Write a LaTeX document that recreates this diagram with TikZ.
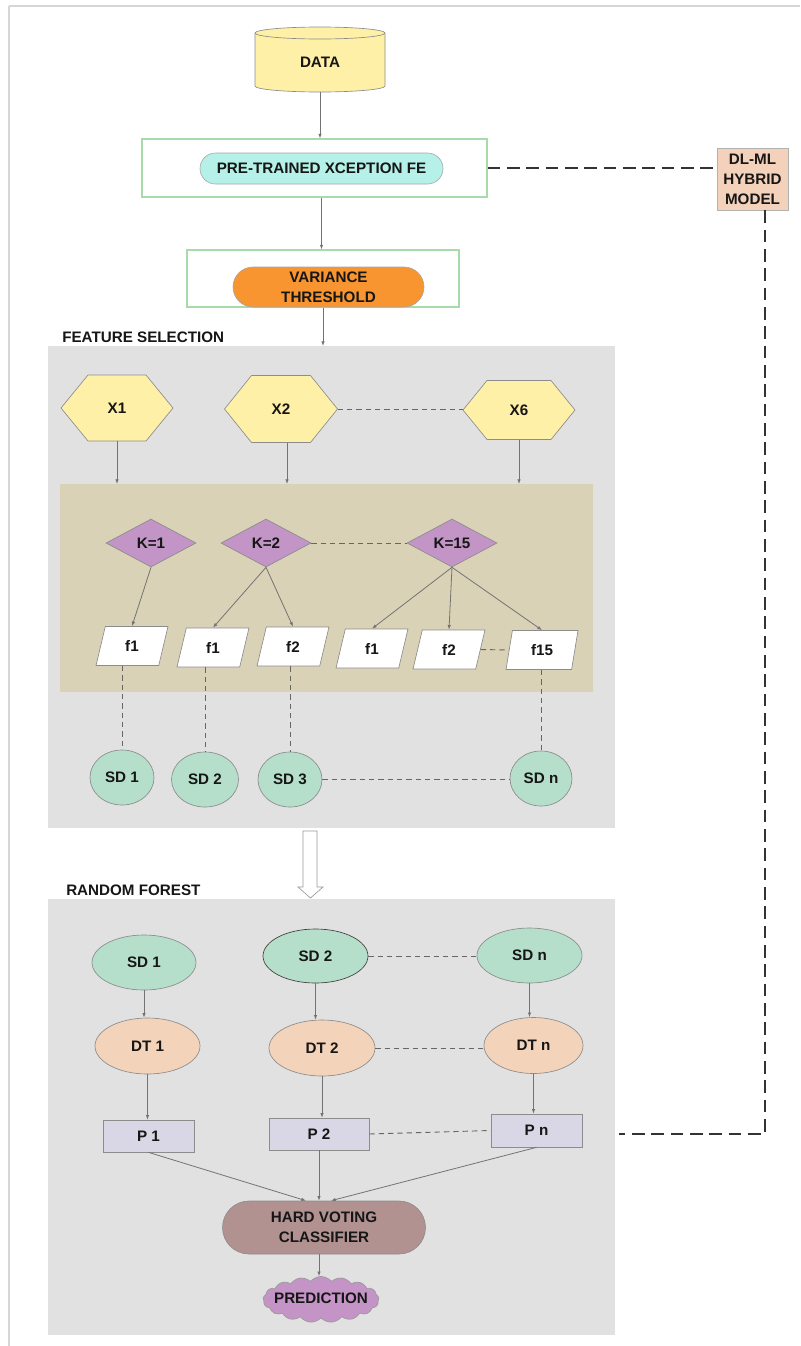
\documentclass[tikz,border=0pt]{standalone}
\usepackage{fontspec}
\setmainfont{Liberation Sans}
\usetikzlibrary{shapes.geometric,shapes.misc,shapes.symbols,arrows.meta,calc}

\def\px{0.75pt}
\definecolor{datayellow}{HTML}{FFF0A8}
\definecolor{xcyan}{HTML}{B5F1E8}
\definecolor{vorange}{HTML}{F99530}
\definecolor{boxgreen}{HTML}{A9DBA9}
\definecolor{regiongray}{HTML}{E1E1E1}
\definecolor{tanfill}{HTML}{D9D2B6}
\definecolor{kpurple}{HTML}{C295C6}
\definecolor{sdgreen}{HTML}{B5DFCB}
\definecolor{dtpeach}{HTML}{F3D4BB}
\definecolor{plav}{HTML}{D9D6E5}
\definecolor{hvbrown}{HTML}{B29191}
\definecolor{predpurple}{HTML}{C594C6}
\definecolor{dlpeach}{HTML}{F3D1BA}
\definecolor{framegray}{HTML}{D6D6D6}
\definecolor{txtblack}{HTML}{161616}

\newcommand\hexnode[7]{%
  \filldraw[hexst] (#2-#4/2,#3) -- (#2-#4/2+#6,#3-#5/2) -- (#2+#4/2-#6,#3-#5/2) -- (#2+#4/2,#3) -- (#2+#4/2-#6,#3+#5/2) -- (#2-#4/2+#6,#3+#5/2) -- cycle;
  \node[txt, minimum width=#4*\px, minimum height=#5*\px] (#1) at (#2,#3) {#7};}

\begin{document}
\begin{tikzpicture}[x=0.75pt,y=-0.75pt,
  font=\fontsize{11.4}{15}\selectfont\bfseries,
  txt/.style={text=txtblack, align=center, inner sep=0pt},
  region/.style={fill=regiongray, draw=none, inner sep=0pt, anchor=north west},
  greenbox/.style={draw=boxgreen, line width=0.8pt, fill=white, inner sep=0pt},
  pill/.style={rounded rectangle, draw=black!35, line width=0.45pt, txt},
  hexst/.style={fill=datayellow, draw=black!45, line width=0.5pt},
  kst/.style={diamond, draw=black!45, line width=0.5pt, fill=kpurple, minimum width=90*\px, minimum height=48*\px, txt},
  fst/.style={trapezium, trapezium left angle=78, trapezium right angle=102, trapezium stretches=true, draw=black!45, line width=0.5pt, fill=white, minimum width=72*\px, minimum height=39*\px, txt},
  ell/.style={ellipse, draw=black!45, line width=0.5pt, txt},
  pst/.style={rectangle, draw=black!45, line width=0.5pt, fill=plav, txt},
  conn/.style={draw=black!55, line width=0.6pt, -{Latex[length=3.5pt,width=2.6pt]}},
  dashconn/.style={draw=black!60, line width=0.7pt, dash pattern=on 4pt off 3pt},
  longdash/.style={draw=black!80, line width=1.1pt, dash pattern=on 9.5pt off 5pt}
]
\useasboundingbox (0,0) rectangle (800,1346);

% frame
\draw[framegray, line width=1.5*\px] (9,6) -- (800,6);
\draw[framegray, line width=1.5*\px] (9,6) -- (9,1346);

% regions
\node[region, minimum width=567*\px, minimum height=482*\px] (fs) at (48,346) {};
\node[region, fill=tanfill, minimum width=533*\px, minimum height=208*\px] (tan) at (60,484) {};
\node[region, minimum width=567*\px, minimum height=436*\px] (rf) at (48,899) {};

\node[txt, anchor=west] (fslabel) at (62,337) {FEATURE SELECTION};
\node[txt, anchor=west] (rflabel) at (66,890) {RANDOM FOREST};

% DATA cylinder
\filldraw[fill=datayellow, draw=black!45, line width=0.5pt] (255,33) -- (255,86)
  arc[start angle=180, end angle=360, x radius=65*\px, y radius=6*\px] -- (385,33)
  arc[start angle=0, end angle=180, x radius=65*\px, y radius=6*\px] -- cycle;
\draw[black!45, line width=0.5pt] (255,33) arc[start angle=180, end angle=360, x radius=65*\px, y radius=6*\px];
\node[txt, minimum width=130*\px, minimum height=60*\px] (data) at (320,62) {DATA};

% Xception
\node[greenbox, minimum width=345*\px, minimum height=58*\px] (xbox) at (314.5,168) {};
\node[pill, fill=xcyan, minimum width=243*\px, minimum height=31*\px] (xin) at (321.5,168.5) {PRE-TRAINED XCEPTION FE};

% Variance
\node[greenbox, minimum width=272*\px, minimum height=57*\px] (vbox) at (323,278.5) {};
\node[pill, fill=vorange, minimum width=191*\px, minimum height=40*\px] (vin) at (328.5,287) {VARIANCE\\THRESHOLD};

% DL-ML
\node[draw=black!30, line width=0.5pt, fill=dlpeach, minimum width=71*\px, minimum height=62*\px, txt] (dl) at (752.5,179) {DL-ML\\HYBRID\\MODEL};

\draw[conn] (data.south) -- (data.south |- xbox.north);
\draw[conn] (xin |- xbox.south) -- (xin |- vbox.north);
\draw[conn] (vbox.south) -- (vbox.south |- fs.north);

\draw[longdash] (xbox.east) -- (xbox.east -| dl.west);
\coordinate (c1) at (765,1134);
\coordinate (c2) at (619,1134);
\draw[longdash] (dl.south -| c1) -- (c1) -- (c2);

% hexagons
\hexnode{x1}{117}{408}{112}{66}{27}{X1}
\hexnode{x2}{281}{409}{113}{67}{27}{X2}
\hexnode{x6}{519}{410}{112}{59}{24}{X6}
\draw[conn] (x1.south) -- (x1.south |- tan.north);
\draw[conn] ([xshift=6*\px]x2.south) -- ([xshift=6*\px]x2.south |- tan.north);
\draw[conn] (x6.south) -- (x6.south |- tan.north);
\draw[dashconn] (x2.east) -- (x2.east -| x6.west);

% diamonds
\node[kst] (k1) at (151,543) {K=1};
\node[kst] (k2) at (266,543) {K=2};
\node[kst] (k15) at (452,543) {K=15};
\draw[dashconn] (k2.east) -- (k15.west);

% features
\node[fst] (fa) at (132,646) {f1};
\node[fst] (fb) at (213,647.5) {f1};
\node[fst] (fc) at (293,646.5) {f2};
\node[fst] (fd) at (372,648.5) {f1};
\node[fst] (fe) at (449,649.5) {f2};
\node[fst] (ff) at (542,650) {f15};
\draw[conn] (k1.south) -- (fa.north);
\draw[conn] (k2.south) -- (fb.north);
\draw[conn] (k2.south) -- (fc.north);
\draw[conn] (k15.south) -- (fd.north);
\draw[conn] (k15.south) -- (fe.north);
\draw[conn] (k15.south) -- (ff.north);
\draw[dashconn] (fe.east) -- (ff.west);

% subsets
\node[ell, fill=sdgreen, minimum width=64*\px, minimum height=55*\px] (sd1) at (122,777.5) {SD 1};
\node[ell, fill=sdgreen, minimum width=67*\px, minimum height=55*\px] (sd2) at (205,779.5) {SD 2};
\node[ell, fill=sdgreen, minimum width=64*\px, minimum height=55*\px] (sd3) at (290,779.5) {SD 3};
\node[ell, fill=sdgreen, minimum width=62*\px, minimum height=55*\px] (sdn) at (541,778.5) {SD n};
\draw[dashconn] (sd1.north |- fa.south) -- (sd1.north);
\draw[dashconn] (sd2.north |- fb.south) -- (sd2.north);
\draw[dashconn] (sd3.north |- fc.south) -- (sd3.north);
\draw[dashconn] (sdn.north |- ff.south) -- (sdn.north);
\draw[dashconn] (sd3.east) -- (sd3.east -| sdn.west);

% hollow arrow
\draw[draw=black!40, fill=white, line width=0.5pt] (303,831) -- (317,831) -- (317,887) -- (323,887) -- (310.5,898) -- (298,887) -- (303,887) -- cycle;

% random forest
\node[ell, fill=sdgreen, minimum width=104*\px, minimum height=55*\px] (rsd1) at (144,962.5) {SD 1};
\node[ell, fill=sdgreen, draw=black!75, minimum width=105*\px, minimum height=54*\px] (rsd2) at (315.5,956) {SD 2};
\node[ell, fill=sdgreen, minimum width=105*\px, minimum height=55*\px] (rsdn) at (529.5,955.5) {SD n};
\draw[dashconn] (rsd2.east) -- (rsd2.east -| rsdn.west);

\node[ell, fill=dtpeach, minimum width=105*\px, minimum height=56*\px] (dt1) at (147.5,1046) {DT 1};
\node[ell, fill=dtpeach, minimum width=106*\px, minimum height=56*\px] (dt2) at (322,1048) {DT 2};
\node[ell, fill=dtpeach, minimum width=99*\px, minimum height=56*\px] (dtn) at (533.5,1045.5) {DT n};
\draw[dashconn] (dt2.east) -- (dt2.east -| dtn.west);

\node[pst, minimum width=91*\px, minimum height=32*\px] (p1) at (148.5,1136) {P 1};
\node[pst, minimum width=100*\px, minimum height=32*\px] (p2) at (319,1134) {P 2};
\node[pst, minimum width=91*\px, minimum height=33*\px] (pn) at (536.5,1130.5) {P n};
\draw[dashconn] (p2.east) -- (pn.west);

\draw[conn] (rsd1.south) -- (rsd1.south |- dt1.north);
\draw[conn] (rsd2.south) -- (rsd2.south |- dt2.north);
\draw[conn] (rsdn.south) -- (rsdn.south |- dtn.north);
\draw[conn] (dt1.south) -- (dt1.south |- p1.north);
\draw[conn] (dt2.south) -- (dt2.south |- p2.north);
\draw[conn] (dtn.south) -- (dtn.south |- pn.north);

\node[pill, fill=hvbrown, draw=black!45, minimum width=203*\px, minimum height=53*\px] (hv) at (324,1227.5) {HARD VOTING\\CLASSIFIER};
\draw[conn] (p1.south) -- ([xshift=-18*\px]hv.north);
\draw[conn] (p2.south) -- (p2.south |- hv.north);
\draw[conn] (pn.south) -- ([xshift=7*\px]hv.north);

\node[cloud, cloud puffs=17, cloud puff arc=100, aspect=2.6, draw=black!40, line width=0.5pt, fill=predpurple, minimum width=116*\px, minimum height=46*\px, inner sep=0pt] (pred) at (321,1299.5) {};
\node[txt] (predlbl) at (321,1298) {PREDICTION};
\draw[conn] (p2.south |- hv.south) -- (p2.south |- pred.north);
\end{tikzpicture}
\end{document}
